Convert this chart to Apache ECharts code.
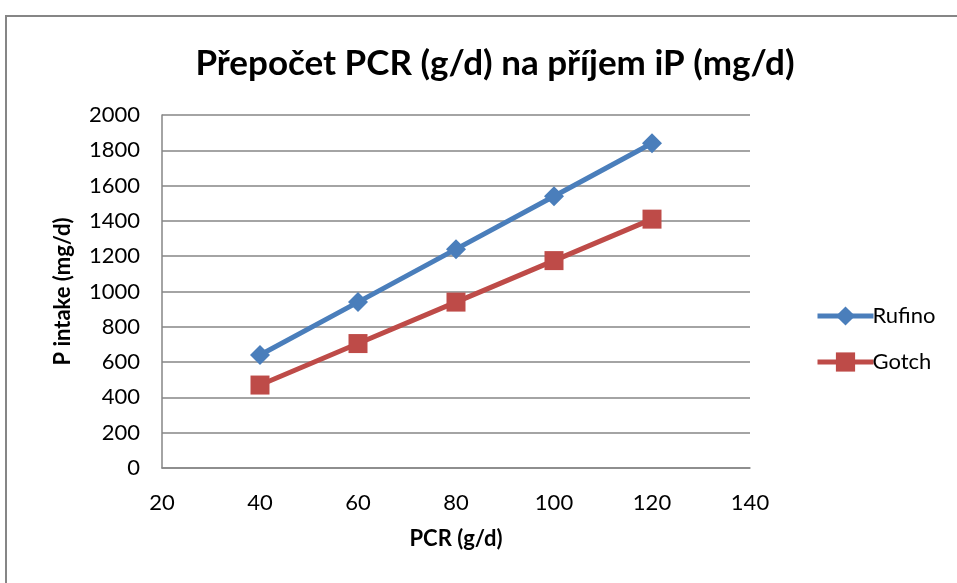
<!DOCTYPE html>
<html>
<head>
<meta charset="utf-8">
<script src="https://cdn.jsdelivr.net/npm/echarts@6/dist/echarts.min.js"></script>
<style>
  html, body { margin: 0; padding: 0; background: #fff; }
  #frame { position: absolute; left: 5px; top: 15px; width: 960px; height: 600px; border: 2px solid #868686; box-sizing: border-box; }
  #chart { position: absolute; left: 0; top: 0; width: 957px; height: 583px; }
</style>
</head>
<body>
<div id="frame"></div>
<div id="chart"></div>
<script>
const pcr = [40, 60, 80, 100, 120];
const rufino = [640, 940, 1240, 1540, 1840];
const gotch = [470, 705, 940, 1175, 1410];
const seriesNames = ['Rufino', 'Gotch'];
const titleText = 'Přepočet PCR (g/d) na příjem iP (mg/d)';
const xName = 'PCR (g/d)';
const yName = 'P intake (mg/d)';

const FONT = 'Lato, "Open Sans", sans-serif';
const chart = echarts.init(document.getElementById('chart'), null, { renderer: 'canvas' });

function pairs(xs, ys) { return xs.map((x, i) => [x, ys[i]]); }

chart.setOption({
  backgroundColor: 'transparent',
  animation: false,
  title: {
    text: titleText,
    left: 490, top: 41, textAlign: 'center',
    textStyle: { fontFamily: FONT, fontWeight: 'bold', fontSize: 35, color: '#000' }
  },
  grid: { left: 162, top: 115, right: 207, bottom: 115 },
  legend: {
    orient: 'vertical', left: 810, top: 300, itemGap: 24,
    itemWidth: 56, itemHeight: 24,
    lineStyle: { width: 5 },
    textStyle: { fontFamily: FONT, fontSize: 22, color: '#000', padding: [0, 0, 0, -6] },
    data: seriesNames
  },
  xAxis: {
    type: 'value', min: 20, max: 140, interval: 20,
    name: xName, nameLocation: 'middle', nameGap: 60,
    nameTextStyle: { fontFamily: FONT, fontWeight: 'bold', fontSize: 22, color: '#000' },
    axisLine: { show: true, lineStyle: { color: '#868686', width: 1.5 } },
    axisTick: { show: false },
    splitLine: { show: false },
    axisLabel: { fontFamily: FONT, fontSize: 22, color: '#000', margin: 24 }
  },
  yAxis: {
    type: 'value', min: 0, max: 2000, interval: 200,
    name: yName, nameLocation: 'middle', nameGap: 88, nameRotate: 90,
    nameTextStyle: { fontFamily: FONT, fontWeight: 'bold', fontSize: 22, color: '#000' },
    axisLine: { show: true, lineStyle: { color: '#868686', width: 1.5 } },
    axisTick: { show: false },
    splitLine: { show: true, lineStyle: { color: '#868686', width: 1.5 } },
    axisLabel: { fontFamily: FONT, fontSize: 22, color: '#000', margin: 22, formatter: v => String(v) }
  },
  series: [
    {
      name: seriesNames[0], type: 'line', data: pairs(pcr, rufino),
      symbol: 'diamond', symbolSize: 20,
      lineStyle: { color: '#4A7EBB', width: 5 },
      itemStyle: { color: '#4A7EBB' }
    },
    {
      name: seriesNames[1], type: 'line', data: pairs(pcr, gotch),
      symbol: 'rect', symbolSize: 19,
      lineStyle: { color: '#BE4B48', width: 5 },
      itemStyle: { color: '#BE4B48' }
    }
  ]
});
</script>
</body>
</html>
